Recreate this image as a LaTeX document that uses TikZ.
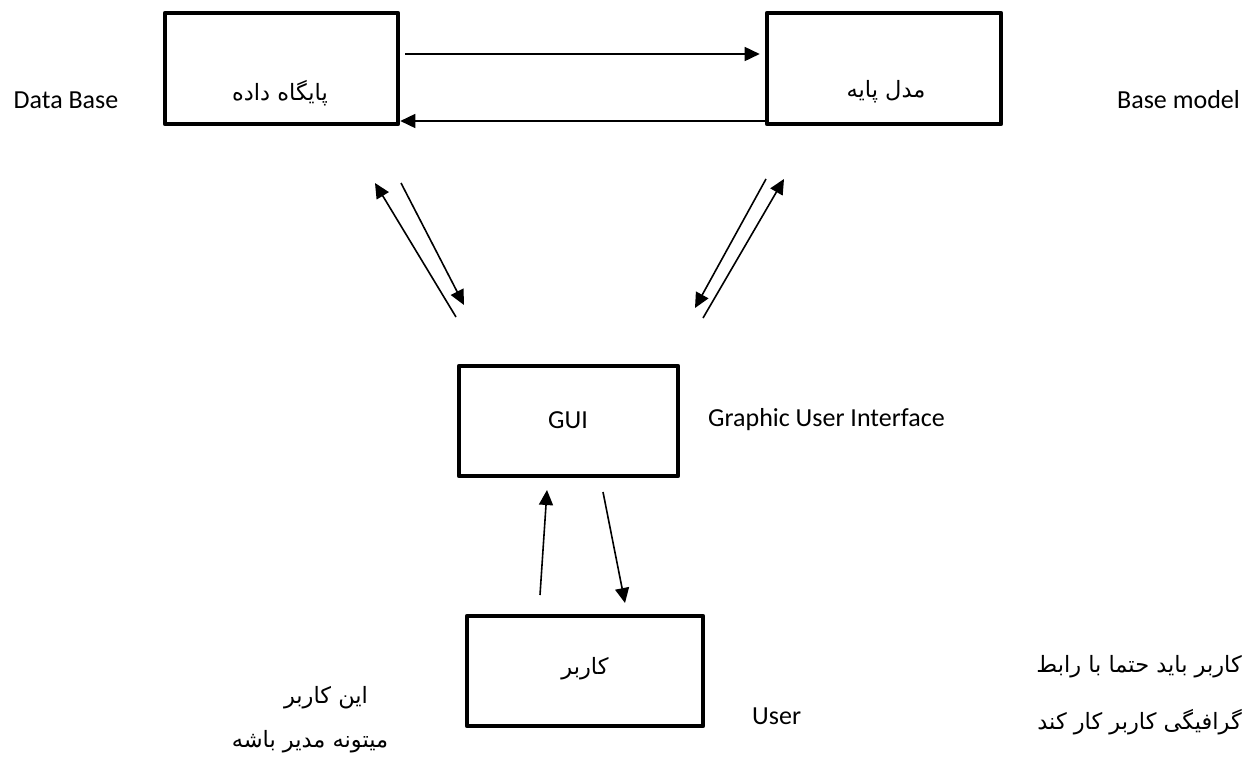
\documentclass[tikz,border=0pt]{standalone}
\usepackage{fontspec}
\setmainfont{Carlito}
\newfontfamily\fa[Script=Arabic]{DejaVu Sans}
\TeXXeTstate=1
\usetikzlibrary{arrows.meta}
\begin{document}
\begin{tikzpicture}[x=1pt,y=-1pt,
  box/.style={draw, line width=4.6pt, rectangle, inner sep=0pt, line join=round},
  arr/.style={-{Triangle[length=15pt,width=14pt]}, line width=1.6pt},
  en/.style={font=\fontsize{26}{31}\selectfont, inner sep=0pt},
  fat/.style={font=\fontsize{22.5}{27}\selectfont\fa, inner sep=0pt}]
\useasboundingbox (0,0) rectangle (1260,758);
% boxes
\node[box, minimum width=233pt, minimum height=111pt] (db) at (281.5,68.5) {};
\node[box, minimum width=234pt, minimum height=111pt] (bm) at (884,68.5) {};
\node[box, minimum width=219pt, minimum height=110pt] (gui) at (568.5,421) {};
\node[box, minimum width=236pt, minimum height=110pt] (usr) at (585,671) {};
% box texts
\node[fat] (dbt) at (280,93) {\beginR پایگاه داده\endR};
\node[fat] (bmt) at (886,92) {\beginR مدل پایه\endR};
\node[en] (guit) at (568,420) {GUI};
\node[fat] (usrt) at (585,669) {\beginR کاربر\endR};
% side labels
\node[en] (dbl) at (66,100) {Data Base};
\node[en, anchor=east] (bml) at (1240,100) {Base model};
\node[en, anchor=west] (guil) at (708,420) {Graphic User Interface};
\node[en, anchor=west] (usrl) at (752,716) {User};
\node[fat, anchor=east] (r1) at (1242,667) {\beginR کاربر باید حتما با رابط\endR};
\node[fat, anchor=east] (r2) at (1242,722) {\beginR گرافیگی کاربر کار کند\endR};
\node[fat] (l1) at (326,698) {\beginR این کاربر\endR};
\node[fat] (l2) at (310,742) {\beginR میتونه مدیر باشه\endR};
% horizontal arrows
\draw[arr] ([xshift=5pt,yshift=14.5pt]db.east) -- ([xshift=-5pt,yshift=14.5pt]bm.west);
\draw[arr] ([yshift=-52.5pt]bm.west) -- ([yshift=-52.5pt]db.east);
% diagonal arrows
\coordinate (d1s) at (456,317); \coordinate (d1e) at (375,183);
\coordinate (d2s) at (401,183); \coordinate (d2e) at (464,305);
\coordinate (d3s) at (766,179); \coordinate (d3e) at (695,308);
\coordinate (d4s) at (703,318); \coordinate (d4e) at (784,179);
\draw[arr] (d1s) -- (d1e);
\draw[arr] (d2s) -- (d2e);
\draw[arr] (d3s) -- (d3e);
\draw[arr] (d4s) -- (d4e);
% vertical arrows
\coordinate (v1s) at (540,595); \coordinate (v1e) at (547,490);
\coordinate (v2s) at (603,492); \coordinate (v2e) at (625,603);
\draw[arr] (v1s) -- (v1e);
\draw[arr] (v2s) -- (v2e);
\end{tikzpicture}
\end{document}
